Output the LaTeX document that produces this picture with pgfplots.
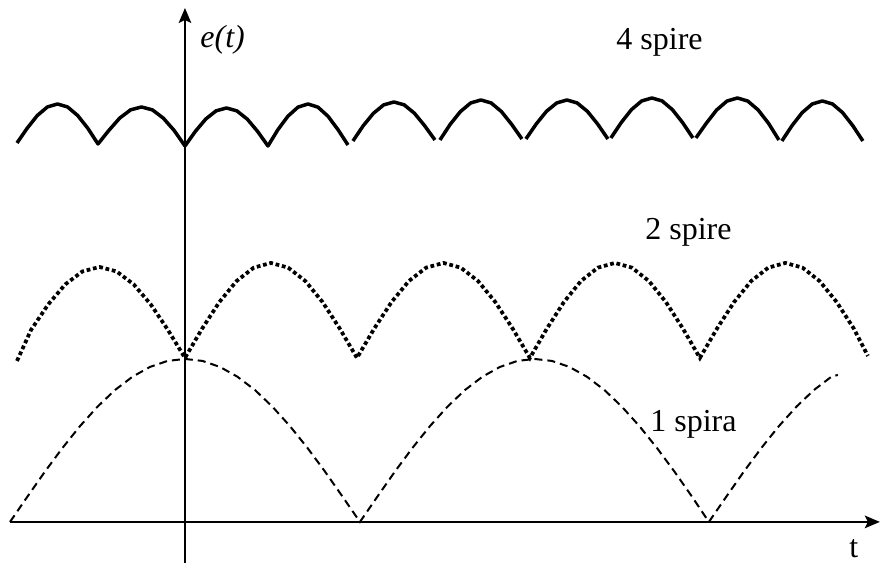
\documentclass[border=0pt]{standalone}
\usepackage{pgfplots}
\pgfplotsset{compat=1.18}
\usepackage{fontspec}
\setmainfont{Liberation Serif}
\usetikzlibrary{arrows.meta}
\begin{document}
\begin{tikzpicture}
\begin{axis}[
  x=0.4pt, y=0.4pt,
  xmin=-185, xmax=696, ymin=-41, ymax=522,
  hide axis, clip=false,
  unbounded coords=jump,
]
\path (axis cs:-185,-41) rectangle (axis cs:696,522);
% axes
\draw[line width=0.9pt, -{Stealth[length=6pt,width=5pt,inset=1.2pt]}] (axis cs:-175,0) -- (axis cs:695,0);
\draw[line width=0.9pt, -{Stealth[length=6pt,width=5pt,inset=1.2pt]}] (axis cs:0,-41) -- (axis cs:0,514);

% 1 spira (dashed)
\addplot[black, line width=0.8pt, dash pattern=on 3.2pt off 2pt] coordinates {
(-175,0) (-157.5,25.4) (-140,50.4) (-122.5,74.0) (-105,95.8) (-87.5,115.2) (-70,131.9) (-52.5,145.2) (-35,155.0) (-17.5,161.0) (0,163)
(17.5,161.0) (35,155.0) (52.5,145.2) (70,131.9) (87.5,115.2) (105,95.8) (122.5,74.0) (140,50.4) (157.5,25.4) (175,0)
(192.5,25.4) (210,50.4) (227.5,74.0) (245,95.8) (262.5,115.2) (280,131.9) (297.5,145.2) (315,155.0) (332.5,161.0) (349.5,163)
(367,161.0) (384.5,155.0) (402,145.2) (419.5,131.9) (437,115.2) (454.5,95.8) (472,74.0) (489.5,50.4) (507,25.4) (524,0)
(541.5,25.4) (559,50.4) (576.5,74.0) (594,95.8) (611.5,115.2) (629,131.9) (646.5,145.2) (653,147)
};

% 2 spire (dotted)
\addplot[black, line width=1.5pt, line cap=butt, dash pattern=on 1.5pt off 1.1pt] coordinates {
(-168,161) (-153.9,192.1) (-136.8,217.5) (-119.7,237.6) (-102.6,250.5) (-85.5,255) (-68.4,250.5) (-51.3,237.6) (-34.2,217.5) (-17.1,192.1) (0,164)
(17.2,193.4) (34.4,219.9) (51.6,240.9) (68.8,254.3) (86,259) (103.2,254.3) (120.4,240.9) (137.6,219.9) (154.8,193.4) (172,164)
(189.3,193.4) (206.6,219.9) (223.9,240.9) (241.2,254.3) (258.5,259) (275.8,254.3) (293.1,240.9) (310.4,219.9) (327.7,193.4) (345,164)
(362,193.4) (379,219.9) (396,240.9) (413,254.3) (430,259) (447,254.3) (464,240.9) (481,219.9) (498,193.4) (515,164)
(532.1,193.4) (549.2,219.9) (566.3,240.9) (583.4,254.3) (600.5,259) (617.6,254.3) (634.7,240.9) (651.8,219.9) (668.9,193.4) (683,166)
};

% 4 spire (solid)
\addplot[black, line width=1.4pt, line join=round] coordinates {
(-168,379) (-157.9,393.6) (-147.75,406.4) (-137.6,415) (-127.5,418) (-117.4,415) (-107.25,406.4) (-97.1,393.6) (-87,378)
(-76.1,391.6) (-65.25,403.9) (-54.4,412.1) (-43.5,415) (-32.6,412.1) (-21.75,403.9) (-10.9,391.6) (0,376)
(10.4,390.6) (20.75,402.9) (31.1,411.1) (41.5,414) (51.9,411.1) (62.25,402.9) (72.6,390.6) (83,376)
(93,392.4) (103,405.8) (113,414.8) (123,418) (133,414.8) (143,405.8) (153,392.4) (163,377)
(165.5,nan)
(168,381) (178.25,396.2) (188.5,408.7) (198.75,417.1) (209,420) (219.25,417.1) (229.5,408.7) (239.75,396.2) (250,382)
(252.5,nan)
(255,382) (265.25,397.6) (275.5,410.4) (285.75,419) (296,422) (306.25,419) (316.5,410.4) (326.75,397.6) (337,383)
(339,nan)
(341,383) (351.25,397.9) (361.5,410.6) (371.75,419) (382,422) (392.25,419) (402.5,410.6) (412.75,397.9) (423,383)
(424.5,nan)
(426,384) (436.25,399.3) (446.5,412.3) (456.75,421) (467,424) (477.25,421) (487.5,412.3) (497.75,399.3) (508,384)
(509.5,nan)
(511,384) (521.4,398.7) (531.75,412) (542.1,420.9) (552.5,424) (562.9,420.9) (573.25,412) (583.6,398.7) (594,382)
(595.5,nan)
(597,381) (607.1,396.3) (617.25,409.3) (627.4,418) (637.5,421) (647.6,418) (657.75,409.3) (667.9,396.3) (678,381)
};

% labels
\node[anchor=base west, inner sep=0pt, font=\fontsize{12.8}{15}\selectfont\itshape] at (axis cs:15,474) {e(t)};
\node[anchor=base west, inner sep=0pt, font=\fontsize{12.8}{15}\selectfont] at (axis cs:431,472) {4 spire};
\node[anchor=base west, inner sep=0pt, font=\fontsize{12.8}{15}\selectfont] at (axis cs:460,282) {2 spire};
\node[anchor=base west, inner sep=0pt, font=\fontsize{12.8}{15}\selectfont] at (axis cs:465,90) {1 spira};
\node[anchor=base west, inner sep=0pt, font=\fontsize{12.8}{15}\selectfont] at (axis cs:664,-36) {t};
\end{axis}
\end{tikzpicture}
\end{document}
